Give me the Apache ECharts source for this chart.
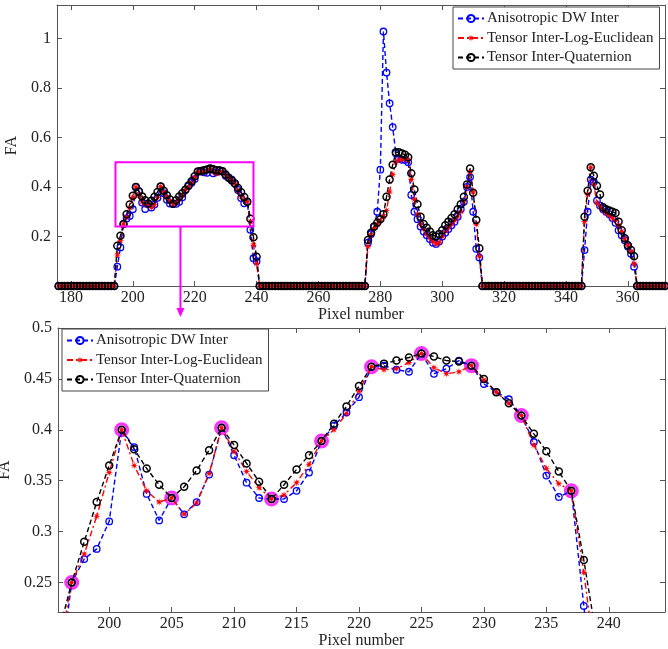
<!DOCTYPE html>
<html>
<head>
<meta charset="utf-8">
<script src="https://cdn.jsdelivr.net/npm/echarts@6/dist/echarts.min.js"></script>
<style>
  html, body { margin: 0; padding: 0; background: #fff; }
  #chart { width: 668px; height: 649px; }
</style>
</head>
<body>
<div id="chart"></div>
<script>
// FA profile along a line of pixels, three interpolation methods.
const firstPixel = 176;

const anisoDW = [
  0, 0, 0, 0, 0, 0, 0, 0, 0, 0,                                   // 176-185
  0, 0, 0, 0, 0, 0, 0, 0, 0, 0.078,                               // 186-195
  0.156, 0.25, 0.273, 0.283, 0.31, 0.4, 0.383, 0.337, 0.311, 0.333, // 196-205
  0.317, 0.329, 0.356, 0.402, 0.375, 0.348, 0.333, 0.332, 0.332, 0.34,
  0.358, 0.389, 0.404, 0.417, 0.432, 0.462, 0.463, 0.459, 0.457, 0.475,
  0.455, 0.46, 0.468, 0.463, 0.445, 0.437, 0.43, 0.414, 0.388, 0.355,
  0.334, 0.34, 0.227, 0.112, 0.1, 0, 0, 0, 0, 0,                  // 236-245
  0, 0, 0, 0, 0, 0, 0, 0, 0, 0,
  0, 0, 0, 0, 0, 0, 0, 0, 0, 0,
  0, 0, 0, 0, 0, 0, 0, 0, 0, 0,                                   // 266-275
  0.175, 0.21, 0.24, 0.3, 0.47, 1.028, 0.862, 0.738, 0.642, 0.536,
  0.515, 0.51, 0.51, 0.5, 0.368, 0.3, 0.27, 0.24, 0.22, 0.205,
  0.19, 0.175, 0.17, 0.18, 0.2, 0.215, 0.23, 0.245, 0.26, 0.28,
  0.31, 0.34, 0.4, 0.44, 0.3, 0.15, 0.115, 0, 0, 0,               // 306-315
  0, 0, 0, 0, 0, 0, 0, 0, 0, 0,
  0, 0, 0, 0, 0, 0, 0, 0, 0, 0,
  0, 0, 0, 0, 0, 0, 0, 0, 0, 0,                                   // 336-345
  0.145, 0.3, 0.43, 0.42, 0.345, 0.325, 0.31, 0.3, 0.29, 0.275,
  0.255, 0.225, 0.205, 0.185, 0.16, 0.13, 0.078, 0, 0, 0,
  0, 0, 0, 0, 0, 0, 0                                             // 366-372
];

const logEuclidean = [
  0, 0, 0, 0, 0, 0, 0, 0, 0, 0,
  0, 0, 0, 0, 0, 0, 0, 0, 0, 0.125,
  0.185, 0.25, 0.278, 0.315, 0.358, 0.4, 0.365, 0.34, 0.329, 0.333,
  0.317, 0.328, 0.357, 0.402, 0.379, 0.359, 0.343, 0.332, 0.336, 0.348,
  0.366, 0.389, 0.4, 0.416, 0.438, 0.462, 0.459, 0.46, 0.466, 0.475,
  0.461, 0.455, 0.457, 0.463, 0.449, 0.437, 0.426, 0.414, 0.385, 0.362,
  0.347, 0.34, 0.26, 0.165, 0.09, 0, 0, 0, 0, 0,
  0, 0, 0, 0, 0, 0, 0, 0, 0, 0,
  0, 0, 0, 0, 0, 0, 0, 0, 0, 0,
  0, 0, 0, 0, 0, 0, 0, 0, 0, 0,
  0.16, 0.205, 0.23, 0.25, 0.265, 0.28, 0.305, 0.38, 0.45, 0.5,
  0.51, 0.51, 0.515, 0.51, 0.43, 0.35, 0.29, 0.25, 0.23, 0.21,
  0.195, 0.18, 0.17, 0.175, 0.2, 0.22, 0.235, 0.25, 0.265, 0.28,
  0.3, 0.34, 0.4, 0.46, 0.38, 0.25, 0.12, 0, 0, 0,
  0, 0, 0, 0, 0, 0, 0, 0, 0, 0,
  0, 0, 0, 0, 0, 0, 0, 0, 0, 0,
  0, 0, 0, 0, 0, 0, 0, 0, 0, 0,
  0.26, 0.37, 0.48, 0.41, 0.335, 0.32, 0.305, 0.295, 0.285, 0.275,
  0.265, 0.245, 0.22, 0.19, 0.165, 0.14, 0.09, 0, 0, 0,
  0, 0, 0, 0, 0, 0, 0
];

const quaternion = [
  0, 0, 0, 0, 0, 0, 0, 0, 0, 0,
  0, 0, 0, 0, 0, 0, 0, 0, 0, 0.163,
  0.203, 0.25, 0.29, 0.329, 0.365, 0.4, 0.381, 0.362, 0.346, 0.333,
  0.344, 0.36, 0.38, 0.402, 0.385, 0.367, 0.349, 0.332, 0.346, 0.361,
  0.375, 0.389, 0.406, 0.423, 0.443, 0.462, 0.465, 0.468, 0.471, 0.475,
  0.472, 0.468, 0.467, 0.463, 0.45, 0.437, 0.426, 0.414, 0.396, 0.379,
  0.359, 0.34, 0.272, 0.197, 0.118, 0, 0, 0, 0, 0,
  0, 0, 0, 0, 0, 0, 0, 0, 0, 0,
  0, 0, 0, 0, 0, 0, 0, 0, 0, 0,
  0, 0, 0, 0, 0, 0, 0, 0, 0, 0,
  0.186, 0.215, 0.24, 0.255, 0.27, 0.29, 0.36, 0.43, 0.49, 0.54,
  0.54, 0.535, 0.53, 0.52, 0.455, 0.39, 0.33, 0.28, 0.25, 0.235,
  0.22, 0.205, 0.2, 0.21, 0.225, 0.245, 0.26, 0.275, 0.29, 0.31,
  0.33, 0.36, 0.41, 0.475, 0.377, 0.267, 0.152, 0, 0, 0,
  0, 0, 0, 0, 0, 0, 0, 0, 0, 0,
  0, 0, 0, 0, 0, 0, 0, 0, 0, 0,
  0, 0, 0, 0, 0, 0, 0, 0, 0, 0,
  0.28, 0.385, 0.48, 0.445, 0.405, 0.37, 0.318, 0.31, 0.305, 0.3,
  0.295, 0.26, 0.225, 0.193, 0.165, 0.145, 0.12, 0, 0, 0,
  0, 0, 0, 0, 0, 0, 0
];

// Pixels where the three methods agree (ringed in the detail view)
const commonPixels = [197, 201, 205, 209, 213, 217, 221, 225, 229, 233, 237];

const seriesNames = ['Anisotropic DW Inter', 'Tensor Inter-Log-Euclidean', 'Tensor Inter-Quaternion'];

const overviewPixelTicks = [180, 200, 220, 240, 260, 280, 300, 320, 340, 360];
const overviewFATicks = [0.2, 0.4, 0.6, 0.8, 1];
const detailPixelTicks = [200, 205, 210, 215, 220, 225, 230, 235, 240];
const detailFATicks = [0.25, 0.3, 0.35, 0.4, 0.45, 0.5];

// Region of the overview that the lower panel enlarges
const detailBox = { pixelFrom: 194.4, pixelTo: 239, faFrom: 0.24, faTo: 0.5 };
const arrowPixel = 215.4;
const arrowTipFA = -0.125;

const FONT = 'Liberation Serif, Times New Roman, serif';
const AXIS_COLOR = '#555';
const TEXT_COLOR = '#222';
const MAGENTA = '#ff00ff';
const ASTERISK = 'path://M20 10L13.2 11.3L17.1 17.1L11.3 13.2L10 20L8.7 13.2L2.9 17.1L6.8 11.3L0 10L6.8 8.7L2.9 2.9L8.7 6.8L10 0L11.3 6.8L17.1 2.9L13.2 8.7Z';

const toPoints = values => values.map((v, i) => [firstPixel + i, v]);

const styles = [
  { data: anisoDW, color: '#0000ff', dash: [5, 3], symbol: 'circle', size: 6.5, fill: 'rgba(0,0,0,0)', border: 1.3 },
  { data: logEuclidean, color: '#ff0000', dash: [6, 3, 2, 3], symbol: ASTERISK, size: 8, fill: '#ff0000', border: 0 },
  { data: quaternion, color: '#000000', dash: [5, 3], symbol: 'circle', size: 7, fill: 'rgba(0,0,0,0)', border: 1.5 }
];

function lineSeries(idx, axisIdx) {
  const s = styles[idx];
  return {
    type: 'line',
    name: seriesNames[idx],
    xAxisIndex: axisIdx,
    yAxisIndex: axisIdx,
    data: toPoints(s.data),
    symbol: s.symbol,
    symbolSize: s.size,
    showAllSymbol: true,
    clip: true,
    lineStyle: { color: s.color, width: 1.4, type: s.dash },
    itemStyle: { color: s.fill, borderColor: s.color, borderWidth: s.border },
    emphasis: { disabled: true }
  };
}

function mainX(grid, min, max, ticks, gap) {
  return {
    type: 'value', gridIndex: grid, min: min, max: max, position: 'bottom',
    axisLine: { show: true, onZero: false, lineStyle: { color: AXIS_COLOR, width: 1 } },
    axisTick: { show: true, inside: true, length: 5, customValues: ticks, lineStyle: { color: AXIS_COLOR } },
    axisLabel: { customValues: ticks, margin: 4, fontFamily: FONT, fontSize: 16, color: TEXT_COLOR },
    splitLine: { show: false },
    name: 'Pixel number', nameLocation: 'middle', nameGap: gap,
    nameTextStyle: { fontFamily: FONT, fontSize: 16, color: TEXT_COLOR }
  };
}
function mirrorX(grid, min, max, ticks) {
  return {
    type: 'value', gridIndex: grid, min: min, max: max, position: 'top',
    axisLine: { show: true, onZero: false, lineStyle: { color: AXIS_COLOR, width: 1 } },
    axisTick: { show: true, inside: true, length: 5, customValues: ticks, lineStyle: { color: AXIS_COLOR } },
    axisLabel: { show: false }, splitLine: { show: false }
  };
}
function mainY(grid, min, max, ticks) {
  return {
    type: 'value', gridIndex: grid, min: min, max: max, position: 'left',
    axisLine: { show: true, onZero: false, lineStyle: { color: AXIS_COLOR, width: 1 } },
    axisTick: { show: true, inside: true, length: 5, customValues: ticks, lineStyle: { color: AXIS_COLOR } },
    axisLabel: { customValues: ticks, margin: 6, fontFamily: FONT, fontSize: 16, color: TEXT_COLOR },
    splitLine: { show: false },
    name: 'FA', nameLocation: 'middle', nameGap: 35,
    nameTextStyle: { fontFamily: FONT, fontSize: 16, color: TEXT_COLOR }
  };
}
function mirrorY(grid, min, max, ticks) {
  return {
    type: 'value', gridIndex: grid, min: min, max: max, position: 'right',
    axisLine: { show: true, onZero: false, lineStyle: { color: AXIS_COLOR, width: 1 } },
    axisTick: { show: true, inside: true, length: 5, customValues: ticks, lineStyle: { color: AXIS_COLOR } },
    axisLabel: { show: false }, splitLine: { show: false }
  };
}

function legendBox(left, top) {
  return {
    data: seriesNames,
    orient: 'vertical',
    left: left, top: top,
    padding: [4, 6, 4, 4],
    itemGap: 4.5,
    itemWidth: 26,
    itemHeight: 9,
    backgroundColor: '#fff',
    borderColor: '#444',
    borderWidth: 1,
    selectedMode: false,
    textStyle: { fontFamily: FONT, fontSize: 15, color: TEXT_COLOR, padding: [0, 0, 0, -2] }
  };
}

const chart = echarts.init(document.getElementById('chart'), null, { renderer: 'canvas' });

const option = {
  animation: false,
  backgroundColor: '#fff',
  grid: [
    { left: 57, right: 3, top: 5, height: 281, outerBoundsMode: 'none', containLabel: false },
    { left: 58, right: 3, top: 328, height: 284, outerBoundsMode: 'none', containLabel: false }
  ],
  xAxis: [
    mainX(0, 175.5, 372, overviewPixelTicks, 16),
    mirrorX(0, 175.5, 372, overviewPixelTicks),
    mainX(1, 195.9, 244.5, detailPixelTicks, 15),
    mirrorX(1, 195.9, 244.5, detailPixelTicks)
  ],
  yAxis: [
    mainY(0, 0, 1.135, overviewFATicks),
    mirrorY(0, 0, 1.135, overviewFATicks),
    mainY(1, 0.221, 0.5, detailFATicks),
    mirrorY(1, 0.221, 0.5, detailFATicks)
  ],
  legend: [legendBox(453, 7), legendBox(62, 329)],
  series: [
    lineSeries(0, 0), lineSeries(1, 0), lineSeries(2, 0),
    {
      type: 'scatter',
      name: 'common',
      xAxisIndex: 2, yAxisIndex: 2,
      z: 1,
      data: commonPixels.map(p => [p, quaternion[p - firstPixel]]),
      symbol: 'circle',
      symbolSize: 12,
      itemStyle: { color: 'rgba(0,0,0,0)', borderColor: MAGENTA, borderWidth: 3 },
      emphasis: { disabled: true }
    },
    lineSeries(0, 2), lineSeries(1, 2), lineSeries(2, 2)
  ]
};

chart.setOption(option);

// Zoom box and arrow on the overview, positioned through the overview's axes
const boxTL = chart.convertToPixel({ gridIndex: 0 }, [detailBox.pixelFrom, detailBox.faTo]);
const boxBR = chart.convertToPixel({ gridIndex: 0 }, [detailBox.pixelTo, detailBox.faFrom]);
const arrowTop = chart.convertToPixel({ gridIndex: 0 }, [arrowPixel, detailBox.faFrom]);
const arrowTip = chart.convertToPixel({ gridIndex: 0 }, [arrowPixel, arrowTipFA]);

chart.setOption({
  graphic: [
    {
      type: 'rect', z: 100,
      shape: { x: boxTL[0], y: boxTL[1], width: boxBR[0] - boxTL[0], height: boxBR[1] - boxTL[1] },
      style: { fill: 'none', stroke: MAGENTA, lineWidth: 2 }
    },
    {
      type: 'line', z: 100,
      shape: { x1: arrowTop[0], y1: arrowTop[1], x2: arrowTip[0], y2: arrowTip[1] - 6 },
      style: { stroke: MAGENTA, lineWidth: 2 }
    },
    {
      type: 'polygon', z: 100,
      shape: { points: [[arrowTip[0], arrowTip[1]], [arrowTip[0] - 4, arrowTip[1] - 9], [arrowTip[0] + 4, arrowTip[1] - 9]] },
      style: { fill: MAGENTA }
    }
  ]
});
</script>
</body>
</html>
